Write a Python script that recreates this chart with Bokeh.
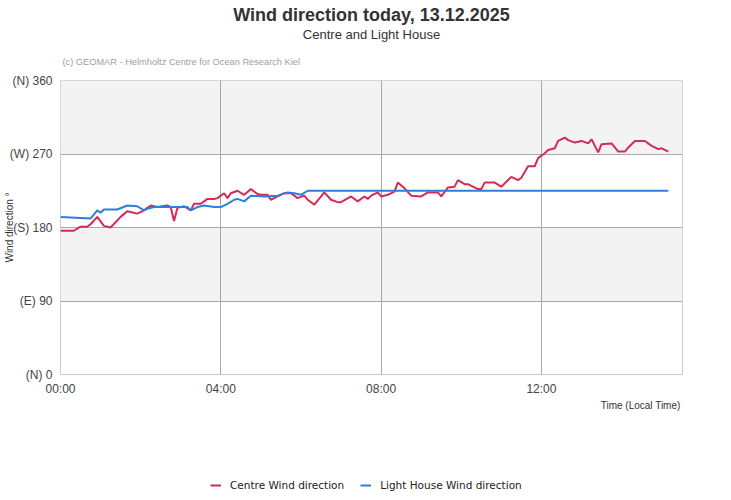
import datetime as dt
from bokeh.plotting import figure
from bokeh.layouts import column
from bokeh.models import (Range1d, FixedTicker, DatetimeTickFormatter, BoxAnnotation,
                          Title, Legend, LegendItem, ColumnDataSource)
from bokeh.embed import file_html
from bokeh.resources import INLINE

DAY = dt.datetime(2025, 12, 13)

# Centre wind direction (degrees)
centre_time = ["00:00", "00:20", "00:30", "00:40", "00:45", "00:55", "01:05", "01:15", "01:30", "01:40",
               "01:55", "02:05", "02:15", "02:25", "02:40", "02:45", "02:50", "02:55", "03:05", "03:15",
               "03:20", "03:30", "03:40", "03:50", "03:55", "04:05", "04:10", "04:15", "04:25", "04:35",
               "04:45", "04:55", "05:00", "05:10", "05:15", "05:25", "05:35", "05:45", "05:55", "06:05",
               "06:10", "06:20", "06:35", "06:45", "06:55", "07:00", "07:15", "07:25", "07:35", "07:40",
               "07:45", "07:55", "08:00", "08:10", "08:20", "08:25", "08:35", "08:45", "09:00", "09:10",
               "09:25", "09:30", "09:40", "09:50", "09:55", "10:05", "10:10", "10:25", "10:30", "10:35",
               "10:50", "11:00", "11:15", "11:25", "11:30", "11:40", "11:50", "11:55", "12:05", "12:10",
               "12:20", "12:25", "12:35", "12:40", "12:50", "13:00", "13:10", "13:15", "13:25", "13:30",
               "13:45", "13:55", "14:05", "14:10", "14:20", "14:35", "14:45", "14:55", "15:00", "15:10"]
centre_dir = [176, 176, 181, 181, 184, 193, 182, 180, 193, 200,
              197, 201, 207, 205, 207, 205, 188, 204, 206, 201,
              209, 209, 215, 215, 216, 222, 216, 222, 225, 220,
              227, 221, 220, 220, 214, 218, 222, 222, 216, 219,
              214, 208, 223, 214, 211, 211, 218, 212, 218, 215,
              219, 223, 218, 220, 224, 235, 228, 219, 218, 223,
              223, 218, 229, 230, 238, 233, 233, 227, 227, 235,
              235, 230, 242, 238, 241, 255, 255, 265, 271, 275,
              277, 286, 290, 287, 284, 286, 283, 288, 272, 282,
              283, 273, 273, 278, 286, 286, 280, 276, 277, 273]

# Light House wind direction (degrees)
lh_time = ["00:00", "00:45", "00:55", "01:00", "01:05", "01:25", "01:40", "01:55", "02:05", "02:10",
           "02:20", "03:10", "03:15", "03:25", "03:35", "03:50", "04:00", "04:10", "04:20", "04:25",
           "04:35", "04:45", "05:05", "05:25", "05:40", "05:50", "06:00", "06:10", "15:10"]
lh_dir = [193, 191, 201, 198, 202, 202, 207, 206, 201, 203,
          205, 205, 201, 205, 207, 205, 205, 209, 214, 215,
          212, 219, 218, 219, 223, 222, 220, 225, 225]

series_names = ["Centre Wind direction", "Light House Wind direction"]
y_ticks = [0, 90, 180, 270, 360]
y_tick_labels = ["(N) 0", "(E) 90", "(S) 180", "(W) 270", "(N) 360"]
x_tick_hours = [0, 4, 8, 12]
x_end_hours = 15.52

TITLE = "Wind direction today, 13.12.2025"
SUBTITLE = "Centre and Light House"
CREDIT = "(c) GEOMAR - Helmholtz Centre for Ocean Research Kiel"
Y_LABEL = "Wind direction °"
X_LABEL = "Time (Local Time)"


def to_dt(times):
    out = []
    for t in times:
        h, m = t.split(":")
        out.append(DAY + dt.timedelta(hours=int(h), minutes=int(m)))
    return out


def ms(d):
    return (d - dt.datetime(1970, 1, 1)).total_seconds() * 1000.0


RED = "#d42a56"
BLUE = "#2f7ed8"
TXT = "#444444"

p = figure(width=731, height=420, output_backend="svg", toolbar_location=None,
           x_axis_type="datetime",
           x_range=Range1d(DAY, DAY + dt.timedelta(hours=x_end_hours)),
           y_range=Range1d(0, 360),
           min_border_left=60, min_border_right=49, min_border_top=80, min_border_bottom=46)
p.background_fill_color = "white"
p.border_fill_color = "white"
p.outline_line_color = "#cccccc"
p.outline_line_width = 1

# titles (first added = closest to the frame)
p.add_layout(Title(text=CREDIT, align="left", offset=2, standoff=27,
                   text_font="Liberation Sans", text_font_size="9.25px",
                   text_font_style="normal", text_color="#a0a0a0"), "above")
p.add_layout(Title(text=SUBTITLE, align="center", standoff=0,
                   text_font="Liberation Sans", text_font_size="13px",
                   text_font_style="normal", text_color="#333333"), "above")
p.add_layout(Title(text=TITLE, align="center", standoff=0,
                   text_font="Liberation Sans", text_font_size="18px",
                   text_font_style="bold", text_color="#333333"), "above")

# bands
for b, t in [(270, 360), (90, 180)]:
    p.add_layout(BoxAnnotation(bottom=b, top=t, fill_color="#f3f3f3", fill_alpha=1.0,
                               line_color=None, level="image"))

# axes
p.yaxis.ticker = FixedTicker(ticks=y_ticks)
p.yaxis.major_label_overrides = {k: v for k, v in zip(y_ticks, y_tick_labels)}
p.yaxis.axis_line_color = None
p.yaxis.major_tick_line_color = None
p.yaxis.minor_tick_line_color = None
p.yaxis.major_tick_out = 0
p.yaxis.major_tick_in = 0
p.yaxis.major_label_standoff = 8
p.yaxis.major_label_text_font = "Liberation Sans"
p.yaxis.major_label_text_font_size = "12px"
p.yaxis.major_label_text_color = TXT
p.yaxis.axis_label = Y_LABEL
p.yaxis.axis_label_standoff = -8
p.yaxis.axis_label_text_font = "Liberation Sans"
p.yaxis.axis_label_text_font_size = "10px"
p.yaxis.axis_label_text_font_style = "normal"
p.yaxis.axis_label_text_color = "#333333"

x_ticks = [ms(DAY + dt.timedelta(hours=h)) for h in x_tick_hours]
p.xaxis.ticker = FixedTicker(ticks=x_ticks)
p.xaxis.formatter = DatetimeTickFormatter(milliseconds="%H:%M", seconds="%H:%M", minsec="%H:%M",
                                          minutes="%H:%M", hourmin="%H:%M", hours="%H:%M",
                                          days="%H:%M", months="%H:%M", years="%H:%M")
p.xaxis.axis_line_color = None
p.xaxis.major_tick_line_color = None
p.xaxis.minor_tick_line_color = None
p.xaxis.major_tick_out = 0
p.xaxis.major_tick_in = 0
p.xaxis.major_label_standoff = 7
p.xaxis.major_label_text_font = "Liberation Sans"
p.xaxis.major_label_text_font_size = "12px"
p.xaxis.major_label_text_color = TXT

# x axis title, right aligned under the axis
p.add_layout(Title(text=X_LABEL, align="right", offset=2, standoff=2, vertical_align="top",
                   text_font="Liberation Sans", text_font_size="10px",
                   text_font_style="normal", text_color="#333333"), "below")

# grids
p.ygrid.ticker = FixedTicker(ticks=y_ticks[1:-1])
p.xgrid.ticker = FixedTicker(ticks=x_ticks[1:])
p.ygrid.grid_line_color = "#a8a8a8"
p.xgrid.grid_line_color = "#a8a8a8"

# lines
src_c = ColumnDataSource(dict(x=to_dt(centre_time), y=centre_dir))
src_l = ColumnDataSource(dict(x=to_dt(lh_time), y=lh_dir))
p.line("x", "y", source=src_c, line_color=RED, line_width=2)
p.line("x", "y", source=src_l, line_color=BLUE, line_width=2)

# legend strip below the chart (same series, drawn outside this strip's visible range)
lg = figure(width=731, height=80, output_backend="svg", toolbar_location=None,
            x_range=Range1d(0, 1), y_range=Range1d(0, 1),
            min_border_left=0, min_border_right=0, min_border_top=0, min_border_bottom=0)
lg.axis.visible = False
lg.grid.visible = False
lg.outline_line_color = None
lg.background_fill_color = "white"
lg.border_fill_color = "white"
k_c = lg.line("x", "y", source=src_c, line_color=RED, line_width=2)
k_l = lg.line("x", "y", source=src_l, line_color=BLUE, line_width=2)
legend = Legend(items=[LegendItem(label=series_names[0], renderers=[k_c]),
                       LegendItem(label=series_names[1], renderers=[k_l])],
                location=(150, 8), orientation="horizontal",
                glyph_width=11, glyph_height=14, label_standoff=9, spacing=16,
                padding=0, margin=0, border_line_color=None, background_fill_alpha=0,
                label_text_font="DejaVu Sans", label_text_font_size="10.5px",
                label_text_color="#222222", label_height=14, label_width=113)
lg.add_layout(legend, "center")

layout = column(p, lg, spacing=0)
open("out.html", "w").write(file_html(layout, INLINE))
